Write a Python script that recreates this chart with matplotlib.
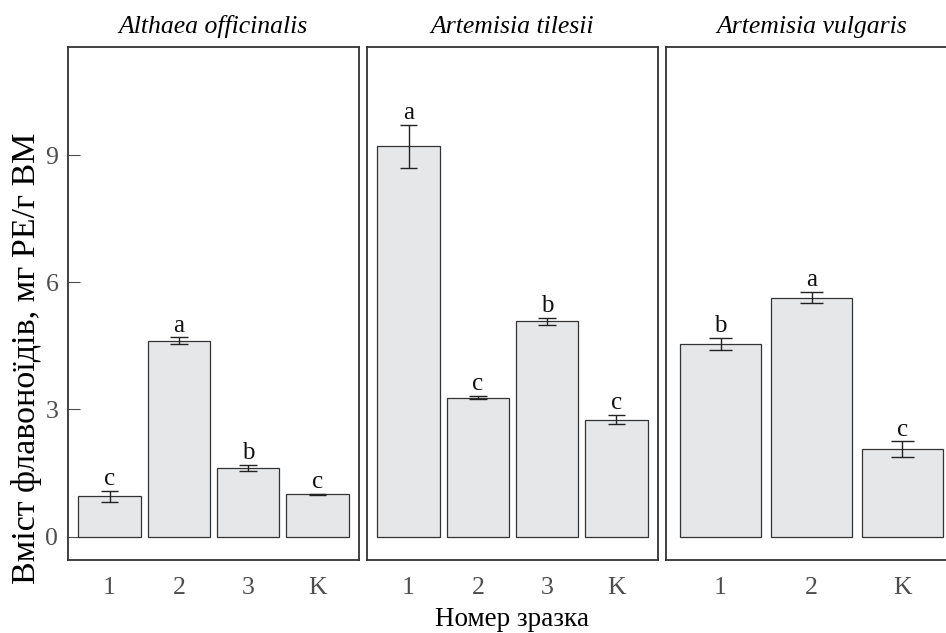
import numpy as np
import matplotlib
matplotlib.use("Agg")
import matplotlib.pyplot as plt

plt.rcParams['font.family'] = ['Liberation Serif', 'DejaVu Serif']

species = ["Althaea officinalis", "Artemisia tilesii", "Artemisia vulgaris"]
samples = [["1", "2", "3", "K"], ["1", "2", "3", "K"], ["1", "2", "K"]]
means = [[0.95, 4.62, 1.62, 1.00], [9.21, 3.28, 5.08, 2.76], [4.55, 5.64, 2.06]]
errs = [[0.13, 0.08, 0.07, 0.01], [0.51, 0.04, 0.08, 0.11], [0.14, 0.13, 0.19]]
letters = [["c", "a", "b", "c"], ["a", "c", "b", "c"], ["b", "a", "c"]]
yticks = [0, 3, 6, 9]

W, H = 946, 633
fig = plt.figure(figsize=(W / 100, H / 100), dpi=100)

# panel edges in pixels (third one runs past the right edge)
lefts = [68, 367, 666]
pw = 291
top, bottom = 47, 560

tick_grey = "#4d4d4d"
edge = "#333333"

for k in range(3):
    ax = fig.add_axes([lefts[k] / W, (H - bottom) / H, pw / W, (bottom - top) / H])
    n = len(samples[k])
    x = np.arange(n)
    ax.bar(x, means[k], width=0.9, color="#e6e7e8", edgecolor=edge, linewidth=0.9, zorder=2)
    lo = np.array(means[k]) - np.array(errs[k])
    hi = np.array(means[k]) + np.array(errs[k])
    ax.vlines(x, lo, hi, color="#222222", linewidth=1.0, zorder=3)
    ax.hlines(lo, x - 0.125, x + 0.125, color="#222222", linewidth=1.0, zorder=3)
    ax.hlines(hi, x - 0.125, x + 0.125, color="#222222", linewidth=1.0, zorder=3)
    for xi, yi, lab in zip(x, hi, letters[k]):
        ax.annotate(lab, (xi, yi), xytext=(0, 4), textcoords="offset points",
                    ha="center", va="baseline", fontsize=18, color="#111111")

    ax.set_xlim(-0.6, n - 0.4)
    ax.set_ylim(-0.55, 11.55)
    ax.set_xticks(x)
    ax.set_xticklabels(samples[k])
    ax.tick_params(axis="x", length=0, pad=12, labelsize=18.5, labelcolor=tick_grey)
    ax.set_yticks(yticks)
    if k == 0:
        ax.tick_params(axis="y", direction="in", length=8.5, width=0.8, color=tick_grey,
                       pad=7, labelsize=18.5, labelcolor=tick_grey)
    else:
        ax.tick_params(axis="y", length=0, labelleft=False)
    for s in ax.spines.values():
        s.set_color(edge)
        s.set_linewidth(1.3)
    ax.set_title(species[k], fontstyle="italic", fontsize=18.5, pad=10)

fig.text(27 / W, 1 - 358 / H, "Вміст флавоноїдів, мг РЕ/г ВМ", rotation=90,
         ha="center", va="center", fontsize=24.5)
fig.text(512 / W, 1 - 619 / H, "Номер зразка", ha="center", va="center", fontsize=19.5)

fig.savefig("out.png", dpi=100)
